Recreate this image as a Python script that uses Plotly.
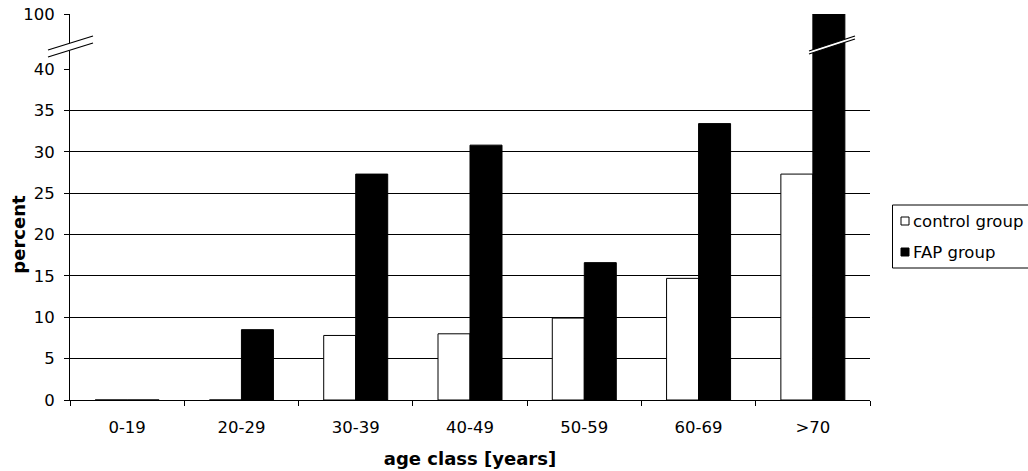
import plotly.graph_objects as go

categories = ["0-19", "20-29", "30-39", "40-49", "50-59", "60-69", ">70"]
control_group = [0, 0, 7.8, 8.0, 9.9, 14.7, 27.3]
fap_group = [0, 8.5, 27.3, 30.8, 16.6, 33.4, 100]
lower_ticks = [0, 5, 10, 15, 20, 25, 30, 35, 40]
upper_ticks = [100]
series_names = ["control group", "FAP group"]
series_fill = ["white", "black"]

W, H = 1028, 471
PL, PR, PT, PB = 70, 870, 14, 400   # plot area in window pixels
L, T, R, B = PL, PT, W - PR, H - PB
pw, ph = PR - PL, PB - PT
split = (PB - 69) / ph

def px(x):
    return (x - PL) / pw

def py(y):
    return (PB - y) / ph

FONT = "DejaVu Sans, Verdana, sans-serif"
fig = go.Figure()
for xa, ya in [("x", "y"), ("x2", "y2")]:
    for name, vals, fill in zip(series_names, [control_group, fap_group], series_fill):
        fig.add_trace(go.Bar(x=categories, y=vals, name=name,
                             marker=dict(color=fill, line=dict(color="black", width=1)),
                             xaxis=xa, yaxis=ya, showlegend=False, hoverinfo="skip"))

axis_common = dict(showline=True, linecolor="black", linewidth=1, ticks="outside",
                   ticklen=5, tickcolor="black", automargin=False,
                   ticklabeloverflow="allow",
                   tickfont=dict(family=FONT, size=16.5, color="black"))

fig.update_layout(
    width=W, height=H, margin=dict(l=L, r=R, t=T, b=B, autoexpand=False),
    paper_bgcolor="white", plot_bgcolor="rgba(0,0,0,0)",
    barmode="group", bargap=0.44, bargroupgap=0,
    font=dict(family=FONT, color="black"),
    xaxis=dict(domain=[0, 1], anchor="y", type="category", tickson="boundaries",
               showgrid=False, ticklabelstandoff=12, **axis_common,
               title=dict(text="<b>age class [years]</b>", font=dict(size=18), standoff=16)),
    xaxis2=dict(domain=[0, 1], anchor="y2", matches="x", visible=False),
    yaxis=dict(domain=[0, split], range=[0, 40], tickvals=lower_ticks, showgrid=True,
               gridcolor="black", gridwidth=1, zeroline=False, ticklabelstandoff=6,
               **axis_common,
               title=dict(text="<b>percent</b>", font=dict(size=18), standoff=3)),
    yaxis2=dict(domain=[split, 1], range=[40, 100], tickvals=upper_ticks, showgrid=False,
                zeroline=False, ticklabelstandoff=6, **axis_common),
    showlegend=False,
)

def brk(x0, y0, x1, y1, gap, color):
    path = (f"M {px(x0)} {py(y0)} L {px(x1)} {py(y1)} L {px(x1)} {py(y1 + gap)} "
            f"L {px(x0)} {py(y0 + gap)} Z")
    fig.add_shape(type="path", xref="paper", yref="paper", path=path,
                  fillcolor="white", line=dict(width=0), layer="above")
    for g in (0, gap):
        fig.add_shape(type="line", xref="paper", yref="paper",
                      x0=px(x0), y0=py(y0 + g), x1=px(x1), y1=py(y1 + g),
                      line=dict(color=color, width=1.3), layer="above")

brk(48, 50, 93, 36, 7, "black")
brk(809, 51, 855, 36, 3, "black")

# legend box drawn by hand
fig.add_shape(type="rect", xref="paper", yref="paper",
              x0=px(892.5), x1=px(1040), y0=py(268), y1=py(205),
              line=dict(color="black", width=1), fillcolor="white")
for i, (name, fill) in enumerate(zip(series_names, series_fill)):
    cy = 221 + 31 * i
    fig.add_shape(type="rect", xref="paper", yref="paper",
                  x0=px(901), x1=px(909), y0=py(cy + 4), y1=py(cy - 4),
                  line=dict(color="black", width=1), fillcolor=fill)
    fig.add_annotation(xref="paper", yref="paper", x=px(911), y=py(cy),
                       text=name, showarrow=False, xanchor="left", yanchor="middle",
                       font=dict(family=FONT, size=16.5, color="black"))

fig.write_html("out.html", config={"displayModeBar": False},
               post_script="document.body.style.margin='0';document.body.style.overflow='hidden';")
